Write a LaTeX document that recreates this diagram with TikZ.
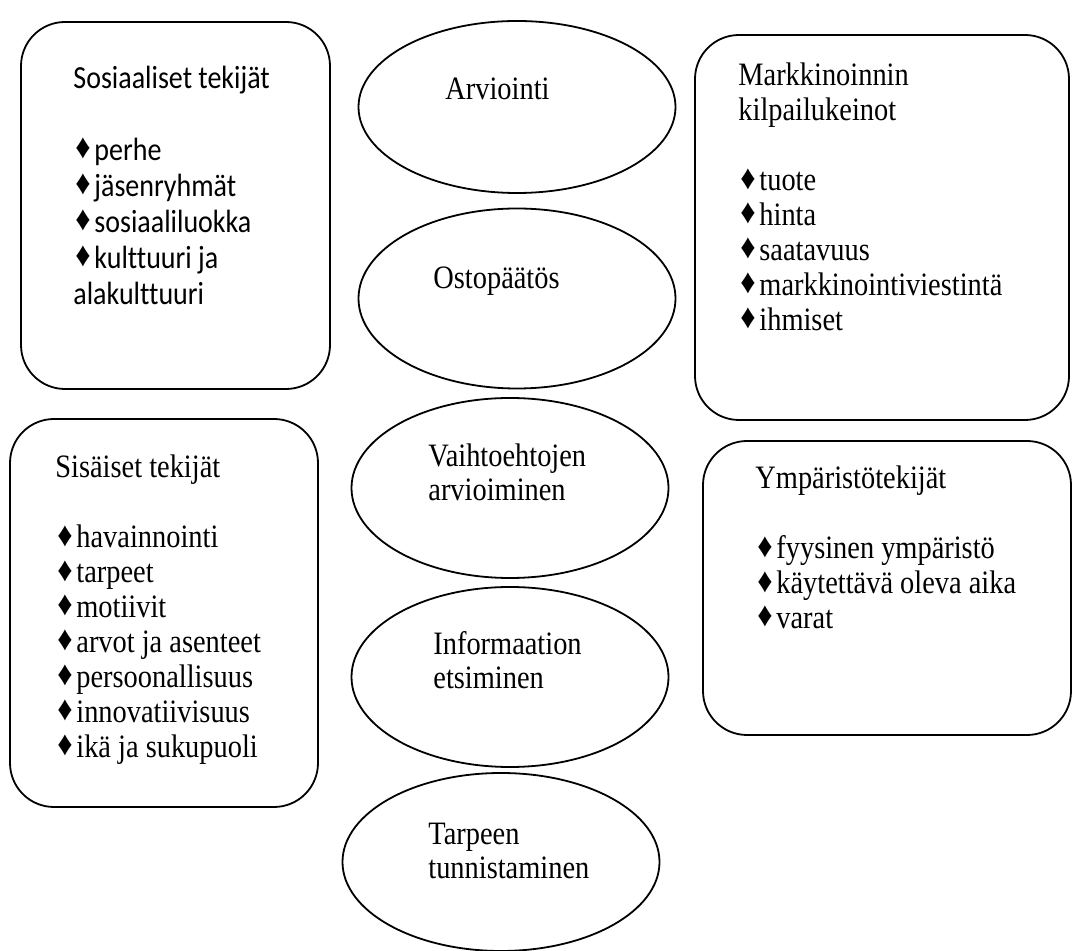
\documentclass[tikz,border=0pt]{standalone}
\usepackage{fontspec}
\setmainfont{Liberation Serif}
\newfontfamily\calfont[Ligatures=NoCommon]{Carlito}
\usetikzlibrary{shapes.geometric}
% bullet: diamond, fixed width
\newcommand{\dia}{\makebox[10.5pt][l]{\hspace{1pt}\raisebox{0.8pt}{\rmfamily\fontsize{15}{15}\selectfont ♦}}}
% text is a bit taller than wide in the drawing
\newcommand{\tall}[1]{\scalebox{1}[1.15]{#1}}

\begin{document}
\begin{tikzpicture}[x=0.5pt,y=-0.5pt,
    box/.style={draw,line width=0.9pt,rounded corners=22pt,inner sep=0pt},
    phase/.style={draw,ellipse,line width=0.9pt,inner sep=0pt,minimum width=158.5pt,minimum height=90pt},
    txt/.style={anchor=base west,inner sep=0pt,font=\fontsize{14.2}{15.2}\selectfont},
    ctxt/.style={anchor=base west,inner sep=0pt,font=\calfont\fontsize{14}{15.6}\selectfont},
    etxt/.style={anchor=base west,inner sep=0pt,font=\fontsize{14.2}{14.5}\selectfont}
    ]
\useasboundingbox (0,0) rectangle (1072,951);

% boxes
\node[box,minimum width=154.5pt,minimum height=183.5pt] (sos) at (175.5,205.5) {};
\node[box,minimum width=154pt,minimum height=194pt] (sis) at (164,613) {};
\node[box,minimum width=187pt,minimum height=192.5pt] (mark) at (882,227.5) {};
\node[box,minimum width=184pt,minimum height=147pt] (ymp) at (887,588) {};

% phases
\node[phase,minimum height=86pt] (arv) at (517,107) {};
\node[phase] (osto) at (517,298.5) {};
\node[phase] (vaiht) at (510,488) {};
\node[phase] (info) at (510,677) {};
\node[phase,minimum height=89pt] (tarve) at (501,862) {};

% texts in boxes
\node[ctxt] (sos-t) at (73,89) {\tall{\begin{tabular}[t]{@{}l@{}}
Sosiaaliset tekijät\\ \\
\dia perhe\\
\dia jäsenryhmät\\
\dia sosiaaliluokka\\
\dia kulttuuri ja\\
alakulttuuri
\end{tabular}}};
\node[txt] (sis-t) at (55,478) {\tall{\begin{tabular}[t]{@{}l@{}}
Sisäiset tekijät\\ \\
\dia havainnointi\\
\dia tarpeet\\
\dia motiivit\\
\dia arvot ja asenteet\\
\dia persoonallisuus\\
\dia innovatiivisuus\\
\dia ikä ja sukupuoli
\end{tabular}}};
\node[txt] (mark-t) at (738,86) {\tall{\begin{tabular}[t]{@{}l@{}}
Markkinoinnin\\
kilpailukeinot\\ \\
\dia tuote\\
\dia hinta\\
\dia saatavuus\\
\dia markkinointiviestintä\\
\dia ihmiset
\end{tabular}}};
\node[txt] (ymp-t) at (755,489) {\tall{\begin{tabular}[t]{@{}l@{}}
Ympäristötekijät\\ \\
\dia fyysinen ympäristö\\
\dia käytettävä oleva aika\\
\dia varat
\end{tabular}}};

% texts in phases
\node[etxt] (arv-t) at (445,100) {\tall{Arviointi}};
\node[etxt] (osto-t) at (433,289) {\tall{Ostopäätös}};
\node[etxt] (vaiht-t) at (428,467) {\tall{\begin{tabular}[t]{@{}l@{}}Vaihtoehtojen\\arvioiminen\end{tabular}}};
\node[etxt] (info-t) at (433,655) {\tall{\begin{tabular}[t]{@{}l@{}}Informaation\\etsiminen\end{tabular}}};
\node[etxt] (tarve-t) at (428,845) {\tall{\begin{tabular}[t]{@{}l@{}}Tarpeen\\tunnistaminen\end{tabular}}};
\end{tikzpicture}
\end{document}
